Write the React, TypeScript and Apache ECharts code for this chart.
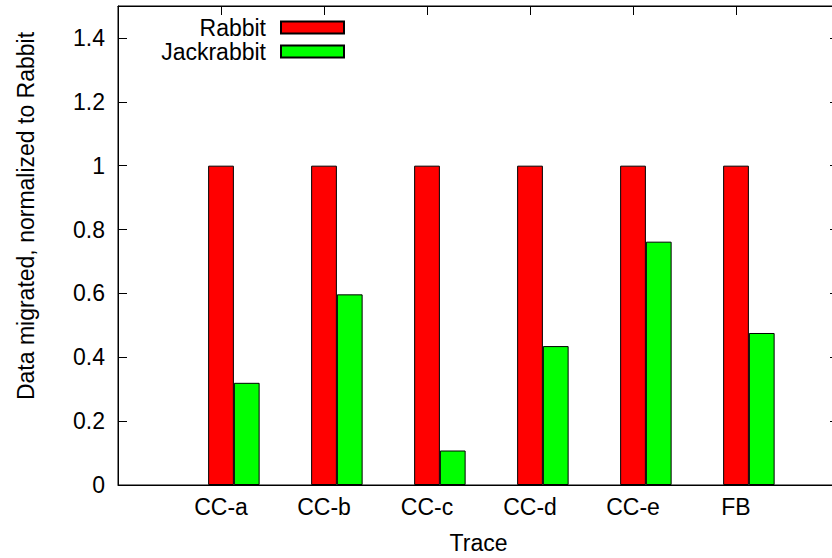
import React, { useEffect, useRef } from "react";
import * as echarts from "echarts";

const categories = ["CC-a", "CC-b", "CC-c", "CC-d", "CC-e", "FB"];
const rabbitValues = [1, 1, 1, 1, 1, 1];
const jackrabbitValues = [0.32, 0.597, 0.108, 0.435, 0.762, 0.476];
const seriesNames = ["Rabbit", "Jackrabbit"];
const xAxisTitle = "Trace";
const yAxisTitle = "Data migrated, normalized to Rabbit";

const FONT = "'Liberation Sans', Arial, Helvetica, sans-serif";
const FS = 23;

export default function App() {
  const ref = useRef<HTMLDivElement>(null);
  useEffect(() => {
    if (!ref.current) return;
    const chart = echarts.init(ref.current, undefined, { renderer: "svg" });
    const tickStyle = { color: "#000", width: 1 };
    const xBase = {
      type: "value" as const,
      min: -1,
      max: 6,
      interval: 1,
      splitLine: { show: false },
      axisLine: { show: true, onZero: false, lineStyle: { color: "#000", width: 1 } },
      axisTick: { show: true, inside: true, length: 9, lineStyle: tickStyle },
    };
    const yBase = {
      type: "value" as const,
      min: 0,
      max: 1.5,
      interval: 0.2,
      splitLine: { show: false },
      axisLine: { show: true, onZero: false, lineStyle: { color: "#000", width: 1 } },
      axisTick: { show: true, inside: true, length: 9, lineStyle: tickStyle },
    };
    chart.setOption({
      animation: false,
      backgroundColor: "#fff",
      textStyle: { fontFamily: FONT },
      grid: {
        left: 118,
        width: 721,
        top: 6,
        height: 479,
        containLabel: false,
        outerBoundsMode: "none",
        show: true,
        borderColor: "#000",
        borderWidth: 1,
        backgroundColor: "transparent",
      },
      legend: {
        data: seriesNames,
        orient: "vertical",
        align: "right",
        right: 487,
        top: 16,
        padding: 0,
        itemGap: 1,
        itemWidth: 63,
        itemHeight: 12,
        icon: "rect",
        textStyle: {
          fontFamily: FONT,
          fontSize: FS,
          color: "#000",
          padding: [0, 10, 0, 0],
        },
      },
      xAxis: [
        {
          ...xBase,
          position: "bottom",
          name: xAxisTitle,
          nameLocation: "middle",
          nameGap: 46,
          nameTextStyle: { fontFamily: FONT, fontSize: FS, color: "#000" },
          axisLabel: {
            show: true,
            margin: 10,
            fontFamily: FONT,
            fontSize: FS,
            color: "#000",
            showMinLabel: true,
            showMaxLabel: true,
            formatter: (v: number) => {
              const i = Math.round(v);
              return i >= 0 && i < categories.length ? categories[i] : "";
            },
          },
        },
        {
          ...xBase,
          position: "top",
          axisLabel: { show: false },
        },
      ],
      yAxis: [
        {
          ...yBase,
          position: "left",
          axisLabel: {
            show: true,
            margin: 13,
            fontFamily: FONT,
            fontSize: FS,
            color: "#000",
            showMaxLabel: false,
          },
        },
        {
          ...yBase,
          position: "right",
          axisLabel: { show: false },
        },
      ],
      graphic: [
        {
          type: "text",
          x: 26,
          y: 216,
          rotation: Math.PI / 2,
          style: {
            text: yAxisTitle,
            fontFamily: FONT,
            fontSize: FS,
            fill: "#000",
            textAlign: "center",
            textVerticalAlign: "middle",
          },
        },
      ],
      series: [
        {
          name: seriesNames[0],
          type: "bar",
          xAxisIndex: 0,
          yAxisIndex: 0,
          barWidth: 25.75,
          barGap: "-100%",
          itemStyle: { color: "#ff0000", borderColor: "#000", borderWidth: 1 },
          data: rabbitValues.map((v, i) => [i, v]),
        },
        {
          name: seriesNames[1],
          type: "bar",
          xAxisIndex: 0,
          yAxisIndex: 0,
          barWidth: 25.75,
          barGap: "-100%",
          itemStyle: { color: "#00ff00", borderColor: "#000", borderWidth: 1 },
          data: jackrabbitValues.map((v, i) => [i + 0.25, v]),
        },
      ],
    });
    return () => chart.dispose();
  }, []);
  return (
    <div
      ref={ref}
      style={{ position: "absolute", left: 0, top: 0, width: 832, height: 558 }}
    />
  );
}
